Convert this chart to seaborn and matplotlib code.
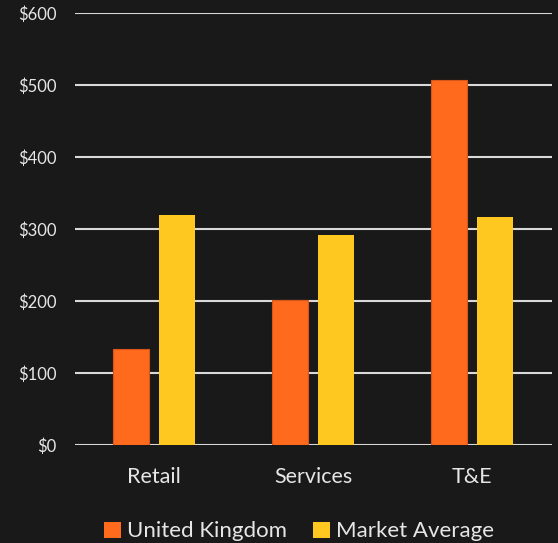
import pandas as pd
import matplotlib.pyplot as plt
import seaborn as sns
from matplotlib.ticker import FuncFormatter

# Data
categories = ["Retail", "Services", "T&E"]
uk_values = [133, 201, 507]
market_values = [319, 292, 317]
series_names = ["United Kingdom", "Market Average"]

df = pd.DataFrame({
    "category": categories * 2,
    "series": [series_names[0]] * 3 + [series_names[1]] * 3,
    "value": uk_values + market_values,
})

bg = "#191919"
text_col = "#e6e6e6"
palette = {"United Kingdom": "#ff6a1c", "Market Average": "#ffc821"}

sns.set_theme(style="dark")
plt.rcParams["font.family"] = ["Lato", "DejaVu Sans"]

fig = plt.figure(figsize=(5.58, 5.43), dpi=100, facecolor=bg)
ax = fig.add_axes([0.134, 0.180, 0.855, 0.796])
ax.set_facecolor(bg)

sns.barplot(data=df, x="category", y="value", hue="series", palette=palette,
            width=0.579, gap=0.22, order=categories, hue_order=series_names,
            ax=ax, saturation=1, edgecolor="none", zorder=3)

for p in ax.patches[:3]:
    p.set_edgecolor("#d9561a")
    p.set_linewidth(0.8)

ax.set_ylim(0, 600)
ax.set_xlim(-0.5, 2.5)
ax.set_yticks(range(0, 601, 100))
ax.yaxis.set_major_formatter(FuncFormatter(lambda v, _: f"${int(v)}"))
ax.grid(axis="y", color="#d9d9d9", linewidth=1.5, zorder=0)
ax.grid(axis="x", visible=False)
for s in ax.spines.values():
    s.set_visible(False)

ax.tick_params(axis="y", colors=text_col, labelsize=12, pad=13, length=0)
ax.tick_params(axis="x", colors=text_col, labelsize=15.5, pad=16, length=0)
ax.set_xlabel("")
ax.set_ylabel("")

leg = ax.legend(loc="upper center", bbox_to_anchor=(0.47, -0.13), ncol=2,
                frameon=False, fontsize=16, handlelength=0.75, handleheight=0.75,
                handletextpad=0.25, columnspacing=1.2)
for t in leg.get_texts():
    t.set_color(text_col)

fig.savefig("out.png", dpi=100, facecolor=bg)
